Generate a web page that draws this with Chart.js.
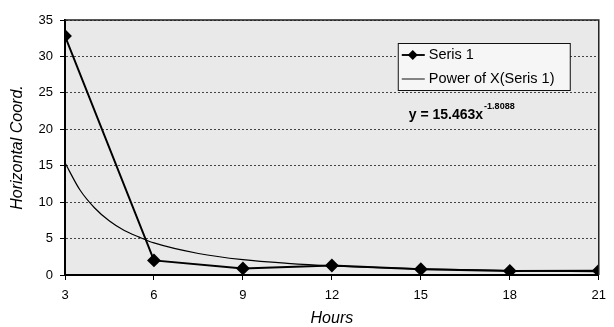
<!DOCTYPE html>
<html><head><meta charset="utf-8">
<script src="https://cdn.jsdelivr.net/npm/chart.js@4/dist/chart.umd.min.js"></script>
<style>html,body{margin:0;padding:0;background:#fff;}#wrap{width:614px;height:327px;}</style>
</head><body><div id="wrap"><canvas id="c" width="614" height="327"></canvas></div>
<script>
const hours = [3, 6, 9, 12, 15, 18, 21];
const seris1 = [32.8, 2.0, 0.9, 1.3, 0.8, 0.55, 0.6];
// trend curve values
const trendHours = [3, 3.5, 4, 4.5, 5, 5.5, 6, 7.5, 9, 10.5, 12, 15, 18, 21];
const trendValues = [15.4, 11.7, 9.2, 7.4, 6.1, 5.2, 4.4, 2.95, 2.1, 1.6, 1.26, 0.84, 0.61, 0.46];
const yTicks = [0, 5, 10, 15, 20, 25, 30, 35];
const xTicks = [3, 6, 9, 12, 15, 18, 21];
const legendLabels = ['Seris 1', 'Power of X(Seris 1)'];
const equationText = 'y = 15.463x';
const equationExp = '-1.8088';

const FONT = '"Liberation Sans", Arial, sans-serif';

const deco = {
  id: 'deco',
  beforeDraw(chart) {
    const {ctx, chartArea: a} = chart;
    ctx.save();
    ctx.fillStyle = '#e9e9e9';
    ctx.fillRect(a.left, a.top, a.right - a.left, a.bottom - a.top);
    ctx.restore();
  },
  afterDatasetsDraw(chart) {
    const {ctx, chartArea: a} = chart;
    ctx.save();
    ctx.strokeStyle = '#222';
    ctx.lineWidth = 1.5;
    ctx.beginPath();
    ctx.moveTo(a.left, a.top); ctx.lineTo(a.right, a.top); ctx.lineTo(a.right, a.bottom);
    ctx.stroke();
    // legend box
    const lx = a.right - 201, ly = a.top + 23, lw = 172, lh = 47;
    ctx.fillStyle = '#f6f6f6';
    ctx.fillRect(lx, ly, lw, lh);
    ctx.strokeStyle = '#111';
    ctx.lineWidth = 1;
    ctx.strokeRect(lx + 0.5, ly + 0.5, lw, lh);
    ctx.lineWidth = 2;
    ctx.beginPath(); ctx.moveTo(lx + 4, ly + 12); ctx.lineTo(lx + 27, ly + 12); ctx.stroke();
    ctx.fillStyle = '#000';
    ctx.beginPath();
    const cx = lx + 15, cy = ly + 12;
    ctx.moveTo(cx, cy - 5); ctx.lineTo(cx + 5, cy); ctx.lineTo(cx, cy + 5); ctx.lineTo(cx - 5, cy); ctx.closePath(); ctx.fill();
    ctx.lineWidth = 1;
    ctx.beginPath(); ctx.moveTo(lx + 4, ly + 36); ctx.lineTo(lx + 27, ly + 36); ctx.stroke();
    ctx.font = '14.5px ' + FONT;
    ctx.textBaseline = 'middle';
    ctx.fillText(legendLabels[0], lx + 31, ly + 12);
    ctx.fillText(legendLabels[1], lx + 31, ly + 36);
    // equation
    ctx.font = 'bold 14px ' + FONT;
    ctx.textBaseline = 'alphabetic';
    const ex = a.right - 190, ey = a.top + 99;
    ctx.fillText(equationText, ex, ey);
    const w = ctx.measureText(equationText).width;
    ctx.font = 'bold 9px ' + FONT;
    ctx.fillText(equationExp, ex + w + 1, ey - 10);
    ctx.restore();
  }
};

new Chart(document.getElementById('c'), {
  type: 'line',
  data: {
    datasets: [
      {label: legendLabels[0], data: hours.map((h, i) => ({x: h, y: seris1[i]})),
       borderColor: '#000', backgroundColor: '#000', borderWidth: 2,
       pointStyle: 'rectRot', pointRadius: 5.5, pointHoverRadius: 5.5, tension: 0},
      {label: legendLabels[1], data: trendHours.map((h, i) => ({x: h, y: trendValues[i]})),
       borderColor: '#000', borderWidth: 1.2, pointRadius: 0, cubicInterpolationMode: 'monotone'}
    ]
  },
  options: {
    responsive: false, animation: false, devicePixelRatio: 1,
    layout: {padding: {top: 20, right: 7, left: 0, bottom: 0}},
    plugins: {legend: {display: false}, tooltip: {enabled: false}},
    scales: {
      x: {
        type: 'linear', min: 3, max: 21,
        afterBuildTicks(s) { s.ticks = xTicks.map(v => ({value: v})); },
        grid: {drawOnChartArea: false, drawTicks: true, tickLength: 5, color: '#000'},
        border: {display: true, color: '#000', width: 2},
        ticks: {color: '#000', font: {family: FONT, size: 13}, padding: 8, maxRotation: 0, autoSkip: false},
        title: {display: true, text: 'Hours', color: '#000', font: {family: FONT, size: 16, style: 'italic', lineHeight: 1}, padding: {top: 0, bottom: 0}},
        afterFit(s) { s.height = 52; }
      },
      y: {
        min: 0, max: 35,
        afterBuildTicks(s) { s.ticks = yTicks.map(v => ({value: v})); },
        grid: {color: '#444', lineWidth: 1, tickLength: 5, drawTicks: true, tickColor: '#000'},
        border: {display: true, color: '#000', width: 2, dash: [2, 2]},
        ticks: {color: '#000', font: {family: FONT, size: 13}, padding: 7},
        title: {display: true, text: 'Horizontal Coord.', color: '#000', font: {family: FONT, size: 16, style: 'italic', lineHeight: 1}, padding: {top: 10, bottom: 0}},
        afterFit(s) { s.width = 65; }
      }
    }
  },
  plugins: [deco]
});
</script>
</body></html>
